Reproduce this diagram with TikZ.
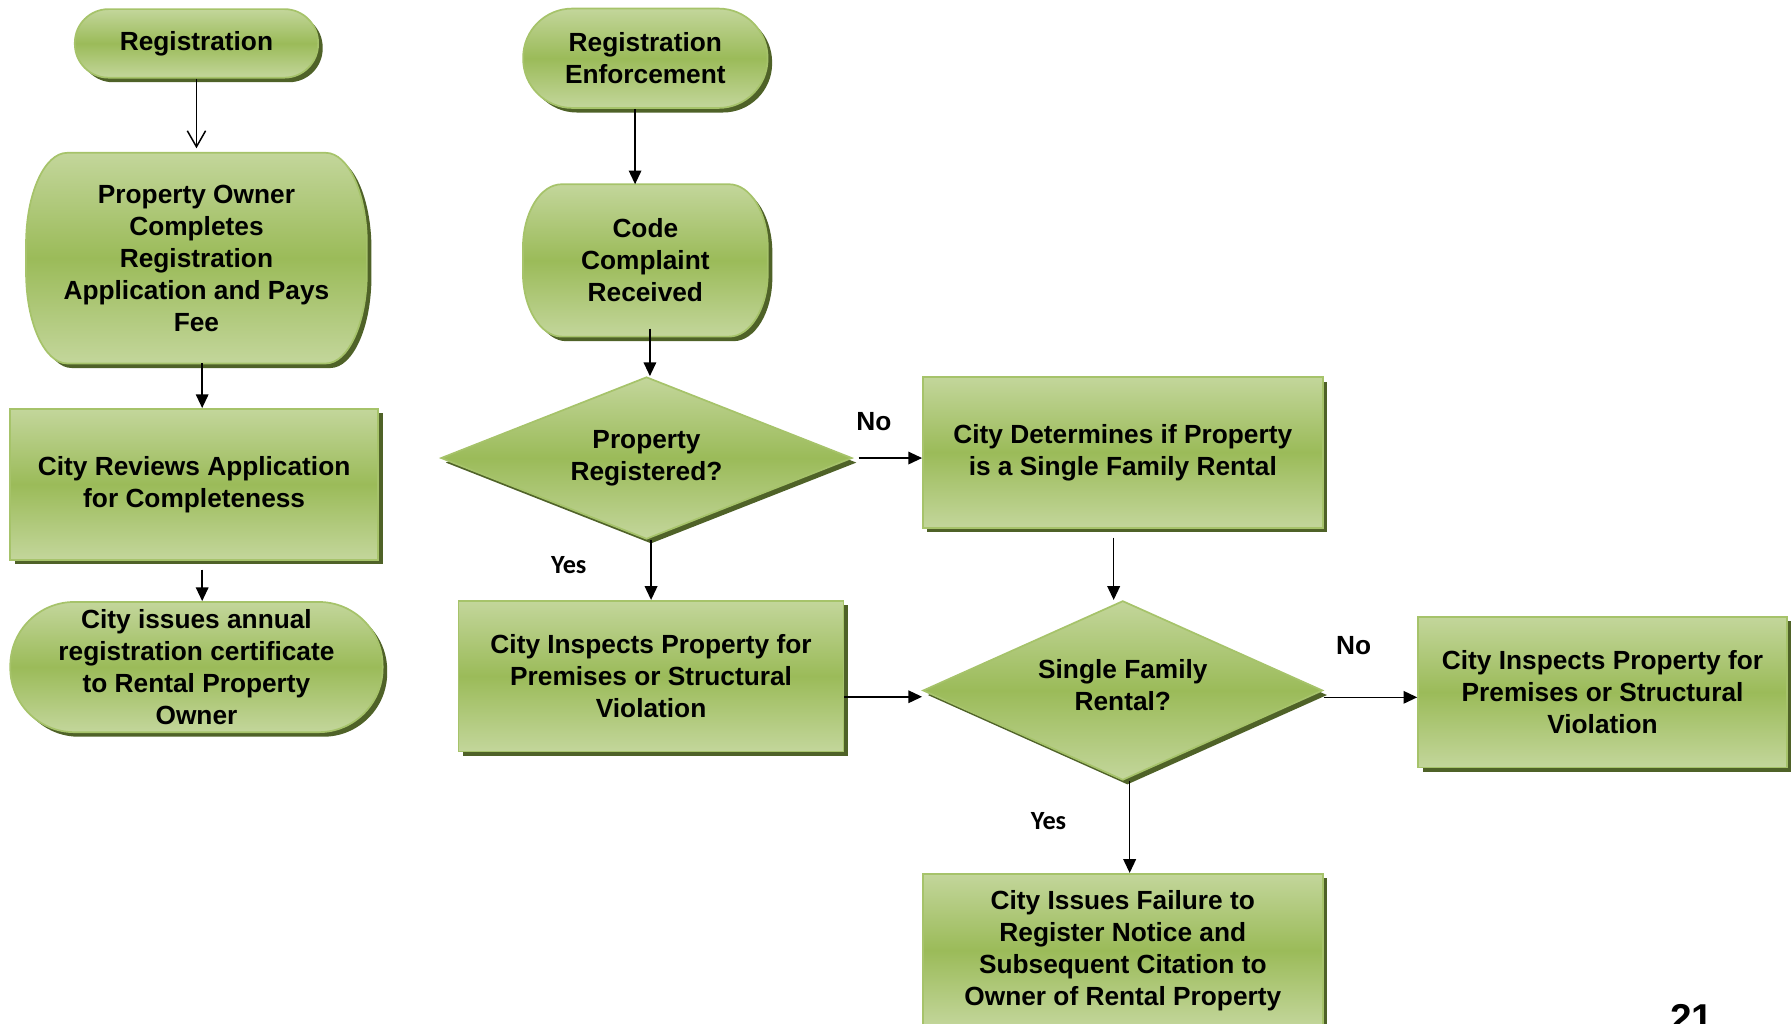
\documentclass[tikz,border=0pt]{standalone}
\usepackage{fontspec}
\setmainfont{Liberation Sans}
\newfontfamily\calib{Carlito}
\usetikzlibrary{shapes.geometric,shadows,arrows.meta,calc,backgrounds}
\definecolor{gl}{HTML}{C3D69B}
\definecolor{gm}{HTML}{9BBB59}
\definecolor{gb}{HTML}{A6C36A}
\definecolor{gs}{HTML}{4F6228}
\tikzset{
  x=1pt, y=1pt,
  greenfill/.style={top color=gl, bottom color=gl, middle color=gm, draw=gb, line width=1.5pt},
  boxshadow/.style={drop shadow={shadow xshift=4pt, shadow yshift=-4pt, opacity=1, fill=gs}},
  txt/.style={font=\fontsize{23}{28}\selectfont\bfseries, align=center, text=black, inner sep=0pt},
  rectbox/.style={rectangle, greenfill, boxshadow, txt},
  pillbox/.style={rectangle, rounded corners=#1, greenfill, boxshadow, txt},
  decision/.style={diamond, greenfill, boxshadow, txt, shape aspect=2.5},
  plainbox/.style={rectangle, txt},
  conn/.style={line width=1.3pt, -{Triangle[length=12pt,width=11pt]}},
  openconn/.style={line width=1.3pt, -{Straight Barb[length=14pt,width=16pt,line width=1.3pt]}},
  lbl/.style={font=\fontsize{23}{28}\selectfont\bfseries, inner sep=0pt},
  lblc/.style={font=\calib\fontsize{23}{28}\selectfont\bfseries, inner sep=0pt},
}
\newcommand\mysoftbox[3]{%
  \begin{scope}[on background layer]
  \path[greenfill, boxshadow]
    ([xshift=#2]#1.north west) -- ([xshift=-#2]#1.north east)
    arc[start angle=90, end angle=0, x radius=#2, y radius=#3]
    -- ([yshift=#3]#1.south east)
    arc[start angle=0, end angle=-90, x radius=#2, y radius=#3]
    -- ([xshift=#2]#1.south west)
    arc[start angle=270, end angle=180, x radius=#2, y radius=#3]
    -- ([yshift=-#3]#1.north west)
    arc[start angle=180, end angle=90, x radius=#2, y radius=#3]
    -- cycle;
  \end{scope}}
\begin{document}
\begin{tikzpicture}
\useasboundingbox (0,0) rectangle (1568,-895.7);

% left column
\node[pillbox=29.5pt, minimum width=213pt, minimum height=60pt] (reg) at (172,-38) {Registration};
\node[plainbox, minimum width=298pt, minimum height=184pt] (po) at (172,-226)
  {Property Owner\\Completes\\Registration\\Application and Pays\\Fee};
\mysoftbox{po}{36pt}{80pt}
\node[rectbox, minimum width=322pt, minimum height=132pt] (cr) at (170,-424)
  {City Reviews Application\\for Completeness};
\node[pillbox=56pt, minimum width=326pt, minimum height=114pt] (cert) at (172,-584)
  {City issues annual\\registration certificate\\to Rental Property\\Owner};

% middle column
\node[pillbox=43pt, minimum width=214pt, minimum height=87pt] (re) at (565,-51)
  {Registration\\Enforcement};
\node[plainbox, minimum width=214pt, minimum height=133pt] (cc) at (565,-228)
  {Code\\Complaint\\Received};
\mysoftbox{cc}{34pt}{56pt}
\node[decision, minimum width=360pt, minimum height=142pt] (d1) at (566,-401)
  {Property\\Registered?};
\node[rectbox, minimum width=337pt, minimum height=132pt] (ci1) at (570,-592)
  {City Inspects Property for\\Premises or Structural\\Violation};

% right part
\node[rectbox, minimum width=350pt, minimum height=132pt] (cd) at (983,-396)
  {City Determines if Property\\is a Single Family Rental};
\node[decision, minimum width=350pt, minimum height=157pt] (d2) at (983,-604.5) {};
\node[txt] (d2t) at ($(d2.center)+(0,5)$) {Single Family\\Rental?};
\node[rectbox, minimum width=323pt, minimum height=132pt] (ci2) at (1403,-606)
  {City Inspects Property for\\Premises or Structural\\Violation};
\node[rectbox, minimum width=350pt, minimum height=134pt] (cif) at (983,-832)
  {City Issues Failure to\\Register Notice and\\Subsequent Citation to\\Owner of Rental Property};

% labels
\node[lblc] (yes1) at (498,-495) {Yes};
\node[lbl] (no1) at (765,-369) {No};
\node[lbl] (no2) at (1185,-565) {No};
\node[lblc] (yes2) at (918,-719) {Yes};
\node[font=\fontsize{34}{40}\selectfont\bfseries, inner sep=0pt, anchor=base] (pg) at (1481,-903) {21};

% connectors
\draw[openconn] (reg.south) -- ([yshift=4pt]po.north);
\draw[conn] ([xshift=5pt]po.south) -- ([xshift=7pt]cr.north);
\coordinate (p3) at ($(cr.south)+(7,-8)$);
\draw[conn] (p3) -- (p3 |- cert.north);
\draw[conn] ([xshift=-9pt]re.south) -- ([xshift=-9pt]cc.north);
\coordinate (p5) at ($(cc.south)+(4,7)$);
\draw[conn] (p5) -- (p5 |- d1.north);
\draw[conn] (d1.south -| ci1.north) -- (ci1.north);
\coordinate (p7) at ($(d1.east)+(5,0)$);
\draw[conn] (p7) -- (p7 -| cd.west);
\coordinate (p8) at ($(cd.south)+(-8,-8)$);
\draw[conn] (p8) -- (p8 |- d2.north);
\coordinate (p9) at ($(ci1.east)+(0,-18)$);
\draw[conn] (p9) -- (p9 -| d2.west);
\coordinate (p10) at ($(d2.east)+(0,-6)$);
\draw[conn] (p10) -- (p10 -| ci2.west);
\coordinate (p11) at ($(d2.south)+(6,0)$);
\draw[conn] (p11) -- (p11 |- cif.north);
\end{tikzpicture}
\end{document}
